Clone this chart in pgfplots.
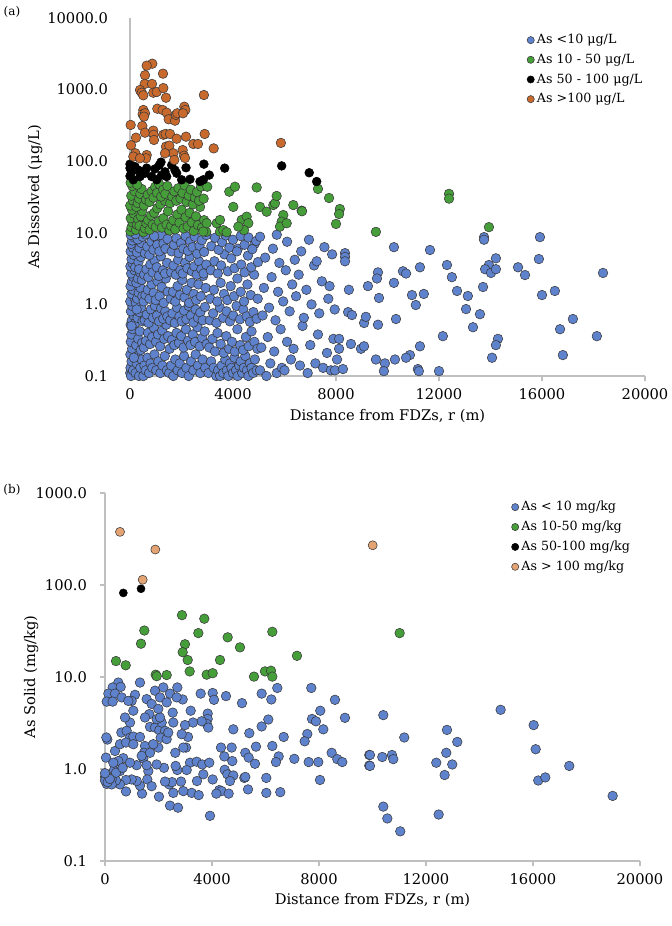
\documentclass[border=0pt]{standalone}
\usepackage{pgfplots}
\pgfplotsset{compat=1.18}
\usepackage{fontspec}
\setmainfont{DejaVu Serif}
\definecolor{bluef}{RGB}{95,130,205}
\definecolor{greenf}{RGB}{70,158,58}
\definecolor{orangef}{RGB}{200,105,45}
\definecolor{peachf}{RGB}{228,163,115}
\definecolor{edge}{RGB}{55,55,55}
\definecolor{axisgray}{RGB}{191,191,191}
\tikzset{
  blpts/.style={only marks, mark=*, mark size=3.6pt, mark options={fill=bluef, draw=edge, line width=0.4pt}},
  grpts/.style={only marks, mark=*, mark size=3.6pt, mark options={fill=greenf, draw=edge, line width=0.4pt}},
  bkpts/.style={only marks, mark=*, mark size=3.3pt, mark options={fill=black, draw=black, line width=0.4pt}},
  orpts/.style={only marks, mark=*, mark size=3.6pt, mark options={fill=orangef, draw=edge, line width=0.4pt}},
  pepts/.style={only marks, mark=*, mark size=3.4pt, mark options={fill=peachf, draw=edge, line width=0.4pt}},
}
\begin{document}
\begin{tikzpicture}
\useasboundingbox (0,0) rectangle (504pt,694.5pt);
\node[font=\fontsize{9}{10}\selectfont] at (9pt,685.5pt) {(a)};
\node[font=\fontsize{9}{10}\selectfont] at (9pt,327pt) {(b)};
\begin{axis}[
  scale only axis, ymode=log, xmin=0, xmax=20000, scaled x ticks=false,
  at={(97.5pt,412.5pt)}, anchor=south west, width=386.25pt, height=268.5pt,
  ymin=0.1, ymax=10000,
  axis x line*=bottom, axis y line*=left,
  axis line style={draw=axisgray, line width=0.8pt},
  xtick={0,4000,8000,12000,16000,20000},
  xticklabels={0,4000,8000,12000,16000,20000},
  ytick={0.1,1,10,100,1000,10000}, yticklabels={0.1,1.0,10.0,100.0,1000.0,10000.0},
  tick align=outside, major tick length=4pt,
  xtick style={draw=axisgray, line width=0.8pt},
  ytick style={draw=none},
  yminorticks=false, clip=false,
  tick label style={font=\fontsize{11}{13}\selectfont},
  label style={font=\fontsize{11}{13}\selectfont},
  yticklabel style={xshift=-9pt},
  xticklabel style={yshift=-2pt},
  xlabel={Distance from FDZs, r (m)}, ylabel={As Dissolved (μg/L)},
  xlabel style={at={(axis description cs:0.5,0)}, anchor=center, yshift=-30pt},
  ylabel style={at={(axis description cs:-0.184,0.5)}, anchor=center},
  legend cell align=left,
  legend style={draw=none, fill=none, font=\fontsize{9.5}{11}\selectfont, row sep=2.2pt, inner sep=1pt,
    at={(axis description cs:0.768,0.966)}, anchor=north west},
  legend image post style={mark size=2.7pt},
]
\addplot[blpts] coordinates {
(10,0.11)(20,0.13)(40,0.1)(60,0.16)(15,0.2)(80,0.24)(30,0.3)(120,0.12)(50,0.38)(100,0.45)(25,0.52)(70,0.6)(140,0.7)(35,0.8)(90,0.95)(10,1.1)(160,1.25)(55,1.4)(110,1.6)(20,1.8)(75,2.1)(130,2.4)(45,2.7)(180,3.0)(15,3.4)(95,3.8)(60,4.3)(150,4.9)(25,5.5)(115,6.2)(40,7.0)(85,7.8)(170,8.6)(30,9.3)
(220,0.11)(260,0.15)(300,0.19)(350,0.1)(400,0.13)(450,0.17)(240,0.27)(320,0.33)(380,0.42)(470,0.29)(210,0.55)(290,0.65)(360,0.78)(430,0.9)(490,0.58)(230,1.05)(280,1.2)(340,1.45)(410,1.7)(480,1.3)(250,2.0)(310,2.3)(390,2.8)(460,2.2)(200,3.3)(330,3.9)(420,4.6)(270,5.3)(370,6.1)(440,7.2)(300,8.1)(490,8.8)(210,9.6)(350,3.1)(260,0.85)(420,0.23)(150,0.18)(60,0.5)
(520,0.1)(560,0.14)(610,0.12)(680,0.18)(740,0.11)(800,0.15)(870,0.13)(950,0.2)(1020,0.12)(1100,0.16)(1180,0.11)(1260,0.14)(1350,0.19)(1430,0.12)
(540,0.25)(620,0.31)(700,0.4)(780,0.28)(860,0.35)(930,0.47)(1010,0.3)(1090,0.38)(1170,0.26)(1250,0.43)(1330,0.33)(1410,0.52)(1480,0.36)
(570,0.6)(650,0.72)(720,0.55)(810,0.85)(890,0.65)(970,0.95)(1050,0.7)(1130,0.58)(1210,0.88)(1290,0.63)(1370,0.8)(1450,0.68)
(530,1.1)(600,1.35)(690,1.6)(760,1.2)(840,1.9)(920,1.45)(1000,1.15)(1070,2.1)(1150,1.3)(1230,1.75)(1310,1.05)(1390,2.3)(1470,1.5)
(550,2.6)(640,3.1)(710,2.4)(790,3.6)(880,2.8)(960,4.1)(1040,3.3)(1120,2.5)(1200,4.7)(1280,3.0)(1360,2.7)(1440,3.8)
(580,5.2)(670,6.4)(750,4.9)(830,7.5)(910,5.8)(990,8.6)(1060,6.8)(1140,5.5)(1220,9.2)(1300,7.1)(1380,6.0)(1460,8.2)(600,9.5)(940,9.0)
(1520,0.11)(1600,0.14)(1680,0.1)(1760,0.17)(1850,0.12)(1930,0.15)(2020,0.11)(2100,0.19)(2190,0.13)(2280,0.1)(2370,0.16)(2460,0.12)(2550,0.2)(2640,0.14)(2730,0.11)(2820,0.17)(2920,0.13)
(1540,0.24)(1630,0.32)(1720,0.27)(1810,0.4)(1900,0.29)(1990,0.36)(2080,0.25)(2170,0.45)(2260,0.31)(2350,0.27)(2440,0.38)(2530,0.3)(2620,0.48)(2710,0.26)(2800,0.34)(2900,0.42)(2980,0.28)
(1560,0.6)(1650,0.75)(1740,0.55)(1830,0.9)(1920,0.68)(2010,0.58)(2100,0.82)(2190,0.62)(2280,0.95)(2370,0.7)(2460,0.56)(2550,0.85)(2640,0.65)(2730,0.77)(2820,0.6)(2910,0.92)
(1580,1.2)(1670,1.5)(1760,1.1)(1850,1.8)(1940,1.35)(2030,2.2)(2120,1.25)(2210,1.6)(2300,1.05)(2390,2.0)(2480,1.4)(2570,1.15)(2660,1.9)(2750,1.3)(2840,2.5)(2940,1.7)
(1600,2.8)(1690,3.5)(1780,2.6)(1870,4.2)(1960,3.0)(2050,2.7)(2140,3.8)(2230,3.2)(2320,4.6)(2410,2.9)(2500,3.4)(2590,2.6)(2680,4.0)(2770,3.1)(2860,2.7)(2960,3.6)
(1620,5.5)(1710,6.8)(1800,8.4)(1890,5.2)(1980,7.2)(2070,6.0)(2160,9.0)(2250,5.6)(2340,7.6)(2430,6.3)(2520,8.8)(2610,5.1)(2700,6.6)(2790,7.9)(2880,5.4)(2970,9.3)
(3050,0.11)(3150,0.16)(3250,0.13)(3350,0.1)(3420,0.12)(3500,0.1)(3560,0.14)(3620,0.11)(3700,0.17)(3760,0.12)(3820,0.1)(3880,0.15)(3940,0.13)(4000,0.11)(4060,0.18)(4120,0.12)(4180,0.1)(4240,0.14)(4300,0.16)(4360,0.11)(4420,0.13)(4480,0.19)(4540,0.12)(4600,0.1)(4660,0.15)(4720,0.13)(4780,0.11)(4850,0.17)(4920,0.12)
(3080,0.25)(3200,0.33)(3300,0.22)(3400,0.4)(3520,0.28)(3640,0.21)(3740,0.36)(3850,0.24)(3960,0.3)(4070,0.22)(4170,0.45)(4280,0.27)(4390,0.23)(4500,0.35)(4610,0.26)(4720,0.42)(4830,0.3)(4950,0.24)
(3100,0.6)(3230,0.75)(3360,0.55)(3490,0.9)(3620,0.65)(3750,0.8)(3880,0.58)(4010,0.7)(4140,0.95)(4270,0.62)(4400,0.85)(4530,0.68)(4660,0.57)(4790,0.78)(4920,0.63)
(3120,1.2)(3260,1.6)(3390,1.1)(3520,2.0)(3650,1.4)(3780,1.15)(3910,1.8)(4040,1.3)(4170,2.3)(4300,1.5)(4430,1.1)(4560,1.9)(4690,1.35)(4820,2.6)(4960,1.2)
(3140,3.0)(3280,4.0)(3410,2.7)(3540,3.5)(3670,5.0)(3800,2.9)(3930,4.4)(4060,3.2)(4190,6.0)(4320,3.6)(4450,2.8)(4580,4.8)(4710,3.3)(4840,7.0)(4970,3.9)
(3160,6.5)(3300,8.5)(3440,5.8)(3580,7.4)(3720,9.2)(3860,6.2)(4000,8.0)(4150,5.5)(4300,9.0)(4450,6.8)(4600,8.6)(4750,5.9)(4900,7.7)
(5050,0.12)(5300,0.1)(5450,0.15)(5700,0.11)(5900,0.13)(6000,0.12)(6250,0.17)(6600,0.14)(6900,0.11)(7200,0.15)(7500,0.13)(7800,0.12)
(5100,0.25)(5350,0.35)(5600,0.22)(5850,0.45)(6100,0.3)(6350,0.24)(6700,0.5)(7000,0.27)(7300,0.38)(7650,0.21)(7900,0.33)
(5150,0.7)(5400,0.9)(5650,0.6)(5950,1.1)(6200,0.8)(6450,1.3)(6750,0.65)(7050,1.0)(7350,0.75)(7700,1.2)(7950,0.85)
(5200,1.7)(5500,2.4)(5750,1.5)(6050,3.0)(6300,1.9)(6550,2.6)(6850,1.6)(7150,3.5)(7450,2.1)(7750,1.8)
(5250,4.5)(5550,6.0)(5800,3.8)(6100,7.5)(6400,4.2)(6650,5.5)(6950,8.0)(7250,4.0)(7550,6.3)(7850,5.0)(5050,8.8)(5700,9.4)
(15920,8.7)(15880,4.3)(18370,2.75)(16500,1.54)(16000,1.35)(17200,0.625)(16700,0.45)(18130,0.36)(16810,0.196)(15070,3.3)(15340,2.57)(14210,4.4)
(13940,3.55)(13790,3.1)(14020,2.75)(14210,3.1)(13750,8.7)(13750,8.0)(13710,1.75)(13590,0.73)(13320,0.48)(14290,0.33)(14210,0.27)(14060,0.18)
(12310,3.55)(12500,2.4)(12700,1.54)(13120,1.31)(13050,0.86)(12150,0.36)(11650,5.75)(11260,3.3)(11410,1.4)(10950,1.35)(11100,0.98)(11260,0.26)
(10870,0.196)(10720,0.18)(11180,0.125)(11220,0.117)(12000,0.117)(10250,6.3)(10600,2.9)(10720,2.7)(10250,2.0)(10330,0.625)(10290,0.17)
(9900,0.15)(9860,0.117)(9550,0.17)(9630,2.8)(9590,2.3)(9670,1.23)(9240,1.8)(9630,0.52)(9090,0.55)(9160,0.67)(8970,0.24)(9090,0.26)(8580,0.28)
(8120,0.33)(8120,0.24)(8040,0.17)(7960,0.12)(8270,0.125)(8470,0.78)(8620,0.71)(8500,1.6)(8350,5.2)(8350,4.6)(8350,4.0)
};
\addlegendentry{As <10 μg/L}
\addplot[grpts] coordinates {
(20,10.5)(60,12)(100,14)(30,16)(150,18.5)(80,21)(10,24)(120,28)(50,33)(180,38)(90,45)(25,50)
(230,11)(270,13)(320,15.5)(370,12.5)(420,17)(470,20)(250,23)(300,26)(350,30)(400,35)(450,41)(280,47)
(520,10.2)(580,11.5)(640,13.5)(700,15)(760,11)(820,17.5)(880,13)(940,19)(1000,12)(1060,22)(1120,14.5)(1180,25)(1240,11.8)(1300,16)(1360,28)(1420,13)(1480,20)
(540,24)(620,29)(690,34)(760,27)(840,38)(910,31)(980,44)(1050,36)(1130,48)(1210,32)(1290,40)(1370,35)(1450,45)
(1530,10.8)(1600,12.5)(1680,15)(1760,11.2)(1840,18)(1920,13.8)(2000,21)(2080,11.5)(2160,16.5)(2240,12.2)(2320,19)(2400,14)(2480,10.6)(2560,17)(2640,12.8)(2720,23)(2800,11.8)(2880,15)(2960,10.3)
(1560,26)(1640,32)(1720,38)(1800,28)(1880,42)(1960,30)(2040,36)(2120,46)(2200,27)(2280,33)(2360,40)(2440,25)(2520,31)(2600,37)(2680,28)(2760,44)(2860,30)
(2979,13.6)(2847,10.4)(3000,44)(3367,13.6)(3495,10.4)(3623,10.9)(3753,10.2)(3495,15.1)(3856,37.5)(4077,44)(4011,23)(4337,15.1)(4531,16.8)(4594,13.6)(4427,10.9)(4207,12.2)
(4920,43)(5048,23)(5307,19.7)(5566,24.4)(5630,25.8)(5953,17.7)(5889,14.3)(5824,12.2)(6085,13.6)(6342,24.4)(6667,20.4)(5695,32.7)(6680,20)(7300,41)(7730,30.6)
(8150,21.5)(8120,18.3)(8000,13.3)(9550,10.3)(12390,35)(12390,30)(13940,12)
};
\addlegendentry{As 10 - 50 μg/L}
\addplot[bkpts] coordinates {
(0,91)(0,80)(65,71)(0,62)(129,55)(324,75)(453,71)(648,80)(583,68)(841,61)(971,78)(1139,88)(1204,97)(1359,71)(1424,61)(1618,88)(1747,75)(1812,68)
(2175,81)(2330,56)(2847,55)(3080,64)(2870,91)(3677,80)(5890,86)(6960,69)(7250,52)(194,84)(388,61)(1036,55)(1229,64)(2006,55)(2718,52)
};
\addlegendentry{As 50 - 100 μg/L}
\addplot[orpts] coordinates {
(866,2300)(648,2160)(583,1590)(1281,1670)(570,1200)(854,1200)(388,986)(454,905)(517,832)(905,905)(1036,925)(1294,1050)(1398,770)(2870,840)
(517,519)(492,452)(583,467)(544,419)(1061,541)(1268,519)(1424,476)(1501,385)(1747,368)(1786,442)(1838,467)(2110,577)(2149,519)(2058,467)
(26,321)(479,310)(583,250)(905,267)(920,234)(932,198)(233,213)(1294,234)(1385,240)(1553,240)(1812,206)(2175,220)(2900,240)(39,167)(2459,174)(2640,174)(3250,151)
(1398,160)(1527,165)(1683,129)(1359,129)(2046,143)(2097,119)(2136,111)(207,129)(129,116)(648,122)(621,110)(388,110)(1721,104)(5860,180)
};
\addlegendentry{As >100 μg/L}
\end{axis}
\begin{axis}[
  scale only axis, ymode=log, xmin=0, xmax=20000, scaled x ticks=false,
  at={(78.75pt,48.75pt)}, anchor=south west, width=401.25pt, height=276pt,
  ymin=0.1, ymax=1000,
  axis x line*=bottom, axis y line*=left,
  axis line style={draw=axisgray, line width=0.8pt},
  xtick={0,4000,8000,12000,16000,20000},
  xticklabels={0,4000,8000,12000,16000,20000},
  ytick={0.1,1,10,100,1000}, yticklabels={0.1,1.0,10.0,100.0,1000.0},
  tick align=outside, major tick length=4pt,
  tick style={draw=axisgray, line width=0.8pt},
  yminorticks=false, clip=false,
  tick label style={font=\fontsize{11}{13}\selectfont},
  label style={font=\fontsize{11}{13}\selectfont},
  yticklabel style={xshift=-6pt},
  xticklabel style={yshift=-2pt},
  xlabel={Distance from FDZs, r (m)}, ylabel={As Solid (mg/kg)},
  xlabel style={at={(axis description cs:0.5,0)}, anchor=center, yshift=-29pt},
  ylabel style={at={(axis description cs:-0.138,0.5)}, anchor=center},
  legend cell align=left,
  legend style={draw=none, fill=none, font=\fontsize{9.5}{11}\selectfont, row sep=2.2pt, inner sep=1pt,
    at={(axis description cs:0.757,0.989)}, anchor=north west},
  legend image post style={mark size=2.7pt},
]
\addplot[blpts] coordinates {
(498,8.7)(287,7.7)(586,7.8)(1308,8.7)(125,6.6)(374,6.6)(62,5.4)(287,5.4)(623,6.0)(1121,6.4)(997,5.5)(1558,5.75)(1869,7.1)(2180,7.7)(2430,6.6)(2704,7.7)(2056,6.0)(2904,5.7)(3577,6.6)(4025,6.7)(4075,5.65)(4523,6.2)(5121,5.2)(5857,6.6)(6218,5.7)(6441,7.6)(7712,7.6)(8597,5.65)(8971,3.6)(8048,4.3)(7738,3.5)(7887,3.3)(8161,2.7)(7563,2.4)(7465,2.0)(8473,1.5)(8684,1.28)(8871,1.19)(9880,1.42)(9880,1.09)(7974,1.19)(7614,1.19)(8037,0.76)(7077,1.29)(6493,1.37)(6392,1.19)(6680,2.23)(6255,1.78)(6105,3.45)(5857,2.9)(5395,2.45)(5645,1.75)(5245,1.5)(5371,1.33)(5607,1.14)(5208,0.80)(5346,0.60)(6030,0.80)(6030,0.55)(6553,0.56)
(4797,2.7)(4735,1.71)(4336,1.71)(4461,1.37)(4759,1.22)(4474,0.98)(4574,0.875)(4797,0.85)(4672,0.74)(5245,0.82)(4274,0.59)(4361,0.575)(4623,0.54)(4162,0.54)(4025,0.77)(3925,0.31)(3839,4.0)(3839,3.5)(3801,3.1)(3614,3.3)(3290,3.2)(3203,4.3)(2990,3.0)(3103,2.23)(3028,1.71)(2628,1.5)(3177,1.17)(3428,1.2)(3637,1.12)(3899,1.17)(3054,0.975)(2704,0.975)(3675,0.875)(3439,0.74)(3240,0.55)(3502,0.52)(2928,0.575)(2553,0.55)(2841,0.73)(2405,0.68)(2505,0.72)(2243,0.73)(2018,0.50)(2430,0.40)(2729,0.38)
(2641,1.08)(2205,1.03)(1932,1.12)(1620,0.95)(1582,0.77)(1744,0.65)(1383,0.54)(1308,0.66)(1184,0.74)(997,0.77)(785,0.76)(785,0.57)(561,0.68)(411,0.75)(249,0.77)(62,0.69)(0,0.82)(249,0.68)(336,0.97)(561,0.95)(411,0.91)(37,1.33)(87,2.09)(374,1.57)(685,1.31)(498,1.22)(660,1.03)(1433,1.30)(1558,1.10)(1184,1.10)
(611,2.49)(810,2.6)(935,2.19)(1059,2.25)(1308,2.23)(1495,1.78)(1458,1.5)(1371,1.39)(1682,2.87)(1869,2.82)(2030,2.64)(2243,2.6)(2119,3.2)(2082,2.19)(2306,2.11)(2366,2.49)(1993,1.71)(1806,1.86)(1682,1.5)(2553,3.2)(2530,4.1)(1657,3.95)(1932,3.48)(2056,3.63)(1495,3.63)(935,3.2)(748,3.63)(1059,4.3)(2306,5.3)(2679,6.0)(872,5.5)(1744,5.1)(1993,4.5)(561,1.86)(785,1.94)(1059,1.86)(311,1.17)(935,1.17)(3862,2.82)(2866,2.39)(2928,1.71)
(0,0.75)(100,0.72)(180,0.78)(0,0.9)(50,2.2)
(14790,4.4)(16025,3.0)(16100,1.64)(17356,1.08)(16197,0.75)(16459,0.81)(18978,0.51)(10404,3.85)(11188,2.2)(9906,1.42)(9906,1.08)(10366,1.35)(10728,1.42)(10777,1.28)(12784,2.66)(13170,1.97)(12758,1.5)(12384,1.17)(12982,1.12)(12697,0.86)(10404,0.39)(10554,0.29)(11038,0.21)(12473,0.32)
};
\addlegendentry{As < 10 mg/kg}
\addplot[grpts] coordinates {
(2878,47)(3712,43)(1470,32)(3489,30)(4586,27)(6255,31)(1346,23)(2990,22.7)(2904,18.6)(5046,21)(3091,15.3)(4299,15.3)(7177,17)(411,14.9)(774,13.4)(3166,11.5)(1895,10.6)(1932,10.2)(2306,10.5)(3801,10.6)(4025,11)(5570,10.1)(5981,11.5)(6205,11.7)(6255,10.1)(11015,30)
};
\addlegendentry{As 10-50 mg/kg}
\addplot[bkpts, mark size=3pt] coordinates {(685,82)(1346,91)};
\addlegendentry{As 50-100 mg/kg}
\addplot[pepts] coordinates {(561,378)(1409,114)(1881,243)(10007,270)};
\addlegendentry{As > 100 mg/kg}
\end{axis}
\end{tikzpicture}
\end{document}
